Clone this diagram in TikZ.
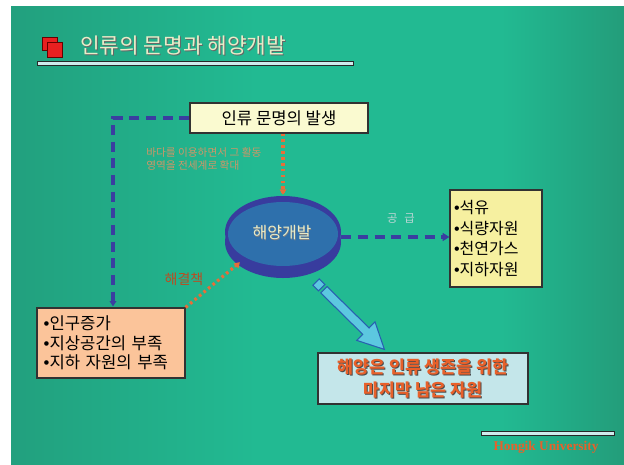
\documentclass[tikz,border=0pt]{standalone}
\usepackage{fontspec}
\setmainfont{Noto Sans CJK KR}
\newfontfamily\serifb{Liberation Serif}
\newfontfamily\lat{Liberation Sans}
\usetikzlibrary{arrows.meta,calc,shapes.geometric}
\definecolor{bgdark}{RGB}{38,100,78}
\definecolor{bgmid}{RGB}{34,160,126}
\definecolor{bglight}{RGB}{34,186,146}
\definecolor{bgmid2}{RGB}{35,142,110}
\definecolor{dashblue}{RGB}{58,62,160}
\definecolor{dotorange}{RGB}{232,110,56}
\definecolor{diskdark}{RGB}{56,60,158}
\definecolor{disklight}{RGB}{46,112,172}
\definecolor{boxborder}{RGB}{50,50,50}
\definecolor{yellowA}{RGB}{250,250,208}
\definecolor{yellowB}{RGB}{246,240,160}
\definecolor{peach}{RGB}{251,196,154}
\definecolor{cyanbox}{RGB}{196,230,234}
\definecolor{arrowfill}{RGB}{92,200,224}
\definecolor{arrowedge}{RGB}{40,96,176}
\definecolor{titletext}{RGB}{232,236,200}
\definecolor{resorange}{RGB}{232,96,42}
\definecolor{smallorange}{RGB}{206,150,104}
\definecolor{linecyan}{RGB}{206,236,236}
\definecolor{sqred}{RGB}{232,32,32}
\pgfdeclarehorizontalshading{bgshade}{100bp}{color(0bp)=(bgdark); color(25bp)=(bgmid); color(45bp)=(bglight); color(65bp)=(bglight); color(80bp)=(bgmid2); color(100bp)=(bgdark)}
\tikzset{
  box/.style={draw=boxborder, line width=0.9pt, inner sep=0pt},
  bluedash/.style={draw=dashblue, line width=2.6pt, dash pattern=on 7.5pt off 5pt},
  orangedot/.style={draw=dotorange, line width=2.4pt, dash pattern=on 2pt off 2.4pt},
  rule/.style={fill=linecyan, draw=boxborder!80!black, line width=0.6pt},
}
\begin{document}
\begin{tikzpicture}[x=0.75pt,y=-0.75pt]
\useasboundingbox (0,0) rectangle (624,464);
\fill[white] (0,0) rectangle (624,464);
\shade[shading=bgshade] (11,6) rectangle (624,464);

% title
\draw[fill=sqred, draw=red!40!black, line width=0.6pt] (42,37) rectangle (57,50);
\draw[fill=sqred, draw=red!40!black, line width=0.6pt] (47,42) rectangle (62,57);
\node[anchor=west, text=black!60, font=\fontsize{16}{18}\selectfont, inner sep=0pt] (titlesh) at (81,47) {인류의 문명과 해양개발};
\node[anchor=west, text=titletext, font=\fontsize{16}{18}\selectfont, inner sep=0pt] (title) at (80,46) {인류의 문명과 해양개발};
\draw[rule] (37,61) rectangle (353,65);

% boxes
\node[box, fill=yellowA, minimum width=133.5pt, minimum height=22.5pt, font=\fontsize{12.5}{14}\selectfont] (origin) at (279,118) {인류 문명의 발생};
\node[box, fill=peach, minimum width=111pt, minimum height=52.5pt, text width=101pt, inner xsep=5pt, align=left, font=\fontsize{12.5}{14.6}\selectfont] (lbox) at (111,343) {{\lat•}인구증가\\{\lat•}지상공간의 부족\\{\lat•}지하 자원의 부족};
\node[box, fill=yellowB, minimum width=69pt, minimum height=72.75pt, text width=63pt, inner xsep=3pt, align=left, font=\fontsize{12}{15.5}\selectfont] (rbox) at (496,238.5) {{\lat•}석유\\{\lat•}식량자원\\{\lat•}천연가스\\{\lat•}지하자원};
\node[box, fill=cyanbox, minimum width=157.5pt, minimum height=38.25pt] (goal) at (423,378.5) {};
\node[text=black!70, font=\bfseries\fontsize{13}{17}\selectfont, align=center, inner sep=0pt] (goalsh) at (424,379.5) {해양은 인류 생존을 위한\\마지막 남은 자원};
\node[text=resorange, font=\bfseries\fontsize{13}{17}\selectfont, align=center, inner sep=0pt] (goaltxt) at (423,378.5) {해양은 인류 생존을 위한\\마지막 남은 자원};

% disk
\fill[diskdark] (283,242) ellipse [x radius=58, y radius=36];
\fill[diskdark] (283,232) ellipse [x radius=58, y radius=36];
\fill[disklight] (283,234) ellipse [x radius=55, y radius=32];
\node[draw=none, ellipse, minimum width=87pt, minimum height=61.5pt, inner sep=0pt] (disk) at (283,237) {};
\node[text=black!50, font=\fontsize{12}{14}\selectfont, inner sep=0pt] (disksh) at (282.5,233.5) {해양개발};
\node[text=titletext, font=\fontsize{12}{14}\selectfont, inner sep=0pt] (disktxt) at (282,233) {해양개발};

% connectors
\draw[bluedash] (origin.west) -| ($(lbox.north)+(2,-3)$);
\draw[dashblue, -{Triangle[length=4pt,width=5pt]}, line width=1pt] ($(lbox.north)+(2,-6)$) -- ($(lbox.north)+(2,-1)$);
\draw[orangedot] (origin.south -| disk.north) -- ($(disk.north)+(0,-3)$);
\draw[dotorange, -{Triangle[length=4pt,width=5pt]}, line width=0.8pt] ($(disk.north)+(0,-6)$) -- ($(disk.north)+(0,-1)$);
\draw[bluedash] (disk.east) -- ($(rbox.west |- disk.east)+(-5,0)$);
\draw[dashblue, -{Triangle[length=5pt,width=6pt]}, line width=1pt] ($(rbox.west |- disk.east)+(-7,0)$) -- (rbox.west |- disk.east);
\draw[orangedot] (lbox.north east) -- ($(disk.south west)+(-3,-3)$);
\draw[dotorange, -{Triangle[length=4pt,width=5pt]}, line width=0.8pt] ($(disk.south west)+(-7,1)$) -- ($(disk.south west)+(-2,-4)$);

% labels
\node[text=smallorange, font=\fontsize{8}{10}\selectfont, align=left, anchor=north west, inner sep=0pt] (note) at (146,147) {바다를 이용하면서 그 활동\\영역을 전세계로 확대};
\node[text=resorange!80!black, font=\fontsize{10.5}{12}\selectfont, inner sep=0pt] (sol) at (184,279) {해결책};
\node[text=linecyan!80!gray, font=\fontsize{8.5}{10}\selectfont, inner sep=0pt] (supply) at (401,218) {공\hspace{0.6em}급};

% big arrow
\filldraw[fill=arrowfill, draw=arrowedge, line width=0.8pt] (312.8,285.2) -- (319.2,278.8) -- (324.9,284.4) -- (318.5,290.8) -- cycle;
\filldraw[fill=arrowfill, draw=arrowedge, line width=0.8pt] (320.7,292.9) -- (327.0,286.5) -- (369.1,327.9) -- (375.0,321.8) -- (384.4,349.4) -- (356.8,340.4) -- (362.7,334.3) -- cycle;

% footer
\draw[rule] (481,431) rectangle (614,435);
\node[text=resorange, font=\serifb\bfseries\fontsize{10}{12}\selectfont, inner sep=0pt] (uni) at (546,447) {Hongik University};
\end{tikzpicture}
\end{document}
